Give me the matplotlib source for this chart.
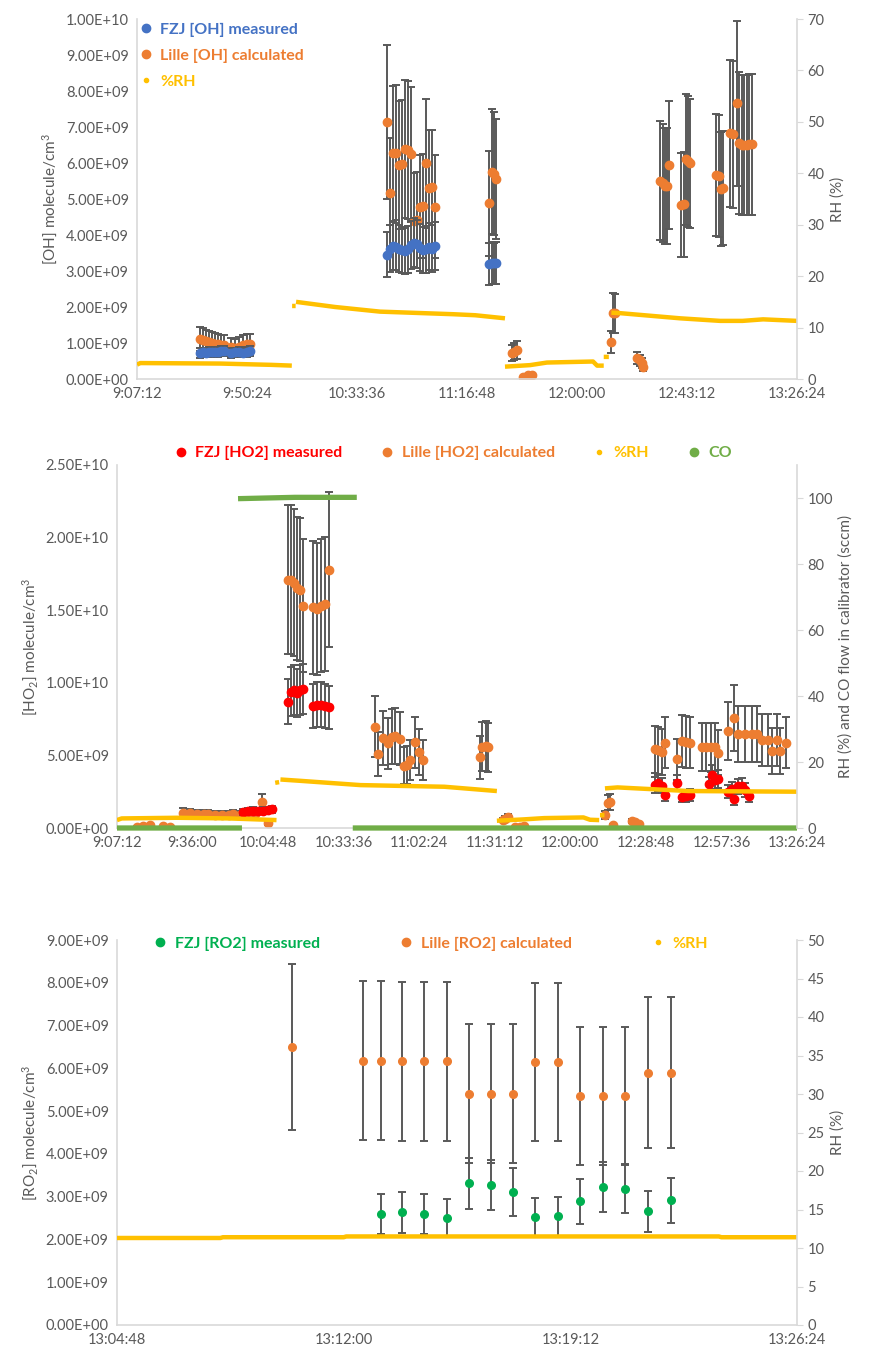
import numpy as np
import matplotlib
matplotlib.use("Agg")
import matplotlib.pyplot as plt
from matplotlib.lines import Line2D
from matplotlib.ticker import FuncFormatter, MultipleLocator

plt.rcParams['font.family'] = ['Lato', 'DejaVu Sans']
plt.rcParams['mathtext.default'] = 'regular'

BLUE = '#4472C4'
ORANGE = '#ED7D31'
GOLD = '#FFC000'
CO_GREEN = '#70AD47'
RED = '#FF0000'
RO2_GREEN = '#00B050'
BAR = '#595959'
TXT = '#595959'
AXC = '#D9D9D9'

# error bars are a percentage of the value
LILLE_ERR = 0.30
FZJ_ERR = 0.18

# ---------------- panel 1 : OH ----------------
oh_lille_t = ["9:31:56", "9:33:07", "9:34:18", "9:35:29", "9:36:40", "9:37:50", "9:39:01", "9:40:12", "9:41:22",
              "9:44:07", "9:45:41", "9:47:16", "9:48:50", "9:50:24", "9:51:35",
              "10:45:16", "10:46:22", "10:47:33", "10:48:44", "10:49:55", "10:51:05", "10:52:16", "10:53:26",
              "10:54:37", "10:55:48", "10:56:59", "10:58:10", "10:59:20", "11:00:31", "11:01:41", "11:02:52",
              "11:04:03",
              "11:25:34", "11:26:31", "11:27:25", "11:28:12",
              "11:34:22", "11:35:16", "11:36:20", "11:38:56", "11:40:46", "11:42:14",
              "12:13:24", "12:14:18", "12:14:54",
              "12:23:36", "12:24:46", "12:25:21", "12:26:06",
              "12:32:38", "12:33:37", "12:34:36", "12:35:23", "12:36:18",
              "12:40:54", "12:41:53", "12:42:42", "12:43:37", "12:44:24",
              "12:54:36", "12:55:35", "12:56:30", "12:57:24",
              "13:00:06", "13:01:17", "13:02:42", "13:03:36", "13:04:42", "13:05:36", "13:06:42", "13:07:36",
              "13:08:36"]
oh_lille = [1.11, 1.08, 1.05, 1.02, 1.00, 0.98, 0.96, 0.94, 0.95,
            0.88, 0.86, 0.90, 0.95, 0.97, 0.96,
            7.13, 5.16, 6.27, 6.29, 5.94, 5.96, 6.38, 6.36, 6.25, 4.40, 4.42, 4.79, 4.80, 5.99, 5.31, 5.33, 4.79,
            4.88, 5.76, 5.70, 5.55,
            0.72, 0.76, 0.81, 0.05, 0.10, 0.12,
            1.03, 1.84, 1.82,
            0.58, 0.52, 0.45, 0.33,
            5.51, 5.45, 5.36, 5.36, 5.94,
            4.83, 4.85, 6.10, 6.05, 5.99,
            5.67, 5.65, 5.28, 5.30,
            6.82, 6.80, 7.66, 6.55, 6.50, 6.50, 6.50, 6.52, 6.52]   # x 1e9

oh_fzj_t = oh_lille_t[:36]
oh_fzj = [0.72, 0.74, 0.73, 0.75, 0.74, 0.76, 0.75, 0.77, 0.78,
          0.72, 0.74, 0.75, 0.73, 0.76, 0.78,
          3.45, 3.62, 3.70, 3.68, 3.62, 3.58, 3.55, 3.60, 3.72, 3.78, 3.75, 3.65, 3.58, 3.60, 3.68, 3.62, 3.70,
          3.20, 3.22, 3.21, 3.23]   # x 1e9

rh1_t = ["9:07:12", "9:08:30", "9:40:00", "10:00:00", "10:08:00", None,
         "10:08:07", "10:09:30", None,
         "10:09:40", "10:25:00", "10:42:38", "11:11:18", "11:20:00", "11:31:43", None,
         "11:31:43", "11:41:36", "11:48:12", "12:06:18", "12:07:54", "12:10:30", None,
         "12:10:30", "12:12:30", None,
         "12:13:30", "12:17:00", "12:40:30", "12:56:12", "13:05:00", "13:13:06", "13:26:24"]
rh1 = [2.8, 3.1, 3.0, 2.75, 2.6, None,
       14.2, 14.2, None,
       15.0, 14.0, 13.1, 12.6, 12.4, 11.8, None,
       2.4, 2.7, 3.2, 3.4, 2.6, 2.6, None,
       4.3, 4.3, None,
       12.9, 12.8, 11.8, 11.3, 11.3, 11.6, 11.3]

ticks12 = ["9:07:12", "9:50:24", "10:33:36", "11:16:48", "12:00:00", "12:43:12", "13:26:24"]

# ---------------- panel 2 : HO2 ----------------
ho2_lille_t = ["9:14:49", "9:17:07", "9:19:47", "9:24:44", "9:27:25",
               "9:32:22", "9:35:02", "9:37:42", "9:40:22", "9:41:53",
               "9:44:34", "9:47:14", "9:49:54", "9:51:25",
               "9:54:05", "9:56:00", "9:57:54", "9:59:49", "10:02:22", "10:04:53",
               "10:12:23", "10:13:32", "10:14:41", "10:15:49", "10:16:58", "10:18:07", "10:21:55", "10:23:27",
               "10:24:58", "10:26:30", "10:28:01",
               "10:45:34", "10:46:49", "10:48:43", "10:50:38", "10:52:00", "10:53:11", "10:55:05", "10:56:37",
               "10:57:45", "10:58:54", "11:00:49", "11:02:27", "11:03:59",
               "11:25:35", "11:26:21", "11:27:53", "11:28:38",
               "11:34:22", "11:35:16", "11:36:20", "11:38:56", "11:40:46", "11:42:14",
               "12:13:15", "12:14:31", "12:15:10", "12:16:24", "12:23:36", "12:24:46", "12:26:06",
               "12:32:19", "12:33:27", "12:34:52", "12:36:07",
               "12:40:48", "12:42:30", "12:44:07", "12:45:39",
               "12:50:06", "12:51:45", "12:53:40", "12:55:11", "12:56:26",
               "13:00:04", "13:02:26", "13:03:57", "13:06:37", "13:09:17", "13:11:12", "13:13:06", "13:15:23",
               "13:16:48", "13:18:48", "13:19:57", "13:22:14"]
ho2_lille = [0.10, 0.15, 0.20, 0.12, 0.10,
             1.05, 1.00, 0.98, 0.95, 0.93,
             0.90, 0.88, 0.92, 0.95,
             0.90, 0.92, 0.95, 0.98, 1.81, 0.32,
             17.1, 17.1, 16.9, 16.5, 16.4, 15.3, 15.2, 15.1, 15.3, 15.4, 17.8,
             6.98, 5.07, 6.18, 5.83, 6.30, 6.34, 6.15, 4.29, 4.35, 4.68, 5.90, 5.26, 4.68,
             4.87, 5.60, 5.65, 5.55,
             0.55, 0.65, 0.75, 0.06, 0.10, 0.12,
             0.90, 1.74, 1.78, 0.20, 0.48, 0.40, 0.28,
             5.42, 5.35, 5.26, 5.88,
             4.73, 5.99, 5.92, 5.88,
             5.56, 5.58, 5.55, 5.56, 5.19,
             6.70, 7.55, 6.45, 6.45, 6.48, 6.45, 6.06, 6.06, 5.32, 6.06, 5.30, 5.88]   # x 1e9

ho2_fzj_t = ["9:55:14", "9:57:08", "9:59:03", "10:00:57", "10:02:52", "10:04:46", "10:06:17",
             "10:12:23", "10:13:32", "10:14:41", "10:15:49", "10:16:58", "10:18:07", "10:21:55", "10:23:27",
             "10:24:58", "10:26:30", "10:28:01",
             "12:32:19", "12:33:27", "12:34:52", "12:36:07",
             "12:40:48", "12:42:30", "12:44:07", "12:45:39",
             "12:53:00", "12:54:10", "12:55:11", "12:56:26",
             "13:00:04", "13:01:30", "13:02:26", "13:03:57", "13:05:30", "13:06:37", "13:08:00"]
ho2_fzj = [1.10, 1.15, 1.20, 1.15, 1.20, 1.25, 1.30,
           8.7, 9.4, 9.5, 9.3, 9.5, 9.6, 8.4, 8.5, 8.5, 8.4, 8.3,
           2.96, 3.10, 2.90, 2.27,
           3.12, 2.16, 2.20, 2.30,
           3.00, 3.65, 3.31, 3.40,
           2.50, 2.70, 1.97, 2.87, 2.90, 2.60, 2.18]   # x 1e9

rh2_t = ["9:07:12", "9:09:00", "9:30:00", "9:50:00", "10:08:00", None,
         "10:07:30", "10:09:00", None,
         "10:09:30", "10:16:58", "10:40:00", "11:12:00", "11:32:00", None,
         "11:32:00", "11:42:00", "11:50:00", "12:05:00", "12:07:30", "12:11:00", None,
         "12:11:18", "12:13:00", None,
         "12:13:12", "12:18:00", "12:45:00", "13:26:24"]
rh2 = [2.4, 2.9, 3.1, 2.9, 2.4, None,
       13.7, 13.9, None,
       14.7, 14.3, 13.0, 12.5, 11.2, None,
       2.2, 2.6, 3.0, 3.2, 2.5, 2.4, None,
       3.9, 3.9, None,
       12.0, 12.3, 11.2, 11.0]

co_t = ["9:07:12", "9:54:50", None, "9:53:20", "10:15:00", "10:38:36", None, "10:37:04", "13:26:24"]
co = [0, 0, None, 99.8, 100.2, 100.2, None, 0, 0]

ticks2 = ["9:07:12", "9:36:00", "10:04:48", "10:33:36", "11:02:24", "11:31:12", "12:00:00", "12:28:48",
          "12:57:36", "13:26:24"]

# ---------------- panel 3 : RO2 ----------------
ro2_lille_t = ["13:10:21", "13:12:36", "13:13:11", "13:13:52", "13:14:34", "13:15:16", "13:15:59", "13:16:41",
               "13:17:23", "13:18:05", "13:18:48", "13:19:31", "13:20:15", "13:20:57", "13:21:40", "13:22:23"]
ro2_lille = [6.50, 6.18, 6.18, 6.16, 6.16, 6.16, 5.41, 5.41, 5.41, 6.15, 6.15, 5.35, 5.35, 5.35, 5.90, 5.90]
ro2_fzj_t = ro2_lille_t[2:]
ro2_fzj = [2.60, 2.63, 2.59, 2.50, 3.31, 3.27, 3.11, 2.52, 2.54, 2.89, 3.22, 3.19, 2.66, 2.92]

rh3_t = ["13:04:48", "13:08:05", "13:08:10", "13:12:00", "13:12:05", "13:23:55", "13:24:00", "13:26:24"]
rh3 = [11.3, 11.3, 11.4, 11.4, 11.5, 11.5, 11.4, 11.4]

ticks3 = ["13:04:48", "13:12:00", "13:19:12", "13:26:24"]


def sec(s):
    if s is None:
        return np.nan
    h, m, ss = s.split(':')
    return int(h) * 3600 + int(m) * 60 + int(ss)


def secs(lst):
    return np.array([sec(s) for s in lst], dtype=float)


def vals(lst, scale=1.0):
    return np.array([np.nan if v is None else v * scale for v in lst], dtype=float)


def hms(v, pos=None):
    v = int(round(v))
    return f"{v // 3600}:{v % 3600 // 60:02d}:{v % 60:02d}"


sci = FuncFormatter(lambda v, p: f"{v:.2E}")


def style(ax, axr, ticks, ymax, ystep, rmax, rstep, rtop=None):
    ax.set_xlim(sec(ticks[0]), sec(ticks[-1]))
    ax.set_xticks(secs(ticks))
    ax.xaxis.set_major_formatter(FuncFormatter(hms))
    ax.set_ylim(0, ymax)
    ax.yaxis.set_major_locator(MultipleLocator(ystep))
    ax.yaxis.set_major_formatter(sci)
    axr.set_ylim(0, rtop if rtop else rmax)
    axr.set_yticks(np.arange(0, rmax + 0.01, rstep))
    for a in (ax, axr):
        a.spines['top'].set_visible(False)
    ax.spines['right'].set_visible(False)
    axr.spines['left'].set_visible(False)
    axr.spines['bottom'].set_visible(False)
    ax.spines['left'].set_color(AXC)
    ax.spines['bottom'].set_color(AXC)
    axr.spines['right'].set_color(AXC)
    for sp in (ax.spines['left'], ax.spines['bottom'], axr.spines['right']):
        sp.set_linewidth(1.2)
    ax.tick_params(axis='both', length=0, labelsize=10.5, labelcolor=TXT, pad=6)
    axr.tick_params(axis='y', length=4, color=AXC, labelsize=10.5, labelcolor=TXT)


def errpts(ax, t, v, pct, color, ms, z):
    x = secs(t)
    y = np.array(v) * 1e9
    ax.errorbar(x, y, yerr=pct * y, fmt='o', color=color, markersize=ms, ecolor=BAR, elinewidth=1.4,
                capsize=3, capthick=1.4, zorder=z)


def dot(color, ms):
    return Line2D([], [], marker='o', linestyle='', color=color, markersize=ms)


fig = plt.figure(figsize=(8.75, 13.51), dpi=100)

# panel 1
ax1 = fig.add_axes([137 / 875, 1 - 379 / 1351, 660 / 875, 360 / 1351])
ax1r = ax1.twinx()
errpts(ax1, oh_lille_t, oh_lille, LILLE_ERR, ORANGE, 6, 2)
errpts(ax1, oh_fzj_t, oh_fzj, FZJ_ERR, BLUE, 6, 3)
ax1r.plot(secs(rh1_t), vals(rh1), color=GOLD, linewidth=3.2, solid_capstyle='butt')
style(ax1, ax1r, ticks12, 1e10, 1e9, 70, 10)
ax1.set_ylabel('[OH] molecule/cm$^3$', color=TXT, fontsize=11)
ax1r.set_ylabel('RH (%)', color=TXT, fontsize=11)
ax1r.legend([dot(BLUE, 6), dot(ORANGE, 6), dot(GOLD, 3)],
            ['FZJ [OH] measured', 'Lille [OH] calculated', '%RH'],
            loc='upper left', bbox_to_anchor=(-0.018, 1.03), frameon=False, handlelength=0.8,
            handletextpad=0.5, labelspacing=0.75, prop={'weight': 'bold', 'size': 11.5},
            labelcolor=[BLUE, ORANGE, GOLD])

# panel 2
ax2 = fig.add_axes([117 / 875, 1 - 828 / 1351, 680 / 875, 363 / 1351])
ax2r = ax2.twinx()
errpts(ax2, ho2_lille_t, ho2_lille, LILLE_ERR, ORANGE, 6, 2)
errpts(ax2, ho2_fzj_t, ho2_fzj, FZJ_ERR, RED, 6, 3)
ax2r.plot(secs(rh2_t), vals(rh2), color=GOLD, linewidth=3.2, solid_capstyle='butt')
ax2r.plot(secs(co_t), vals(co), color=CO_GREEN, linewidth=3.8, solid_capstyle='butt', clip_on=False)
style(ax2, ax2r, ticks2, 2.5e10, 5e9, 100, 20, rtop=110)
ax2.set_ylabel('[HO$_2$] molecule/cm$^3$', color=TXT, fontsize=11)
ax2r.set_ylabel('RH (%) and CO flow in calibrator (sccm)', color=TXT, fontsize=11)
ax2r.legend([dot(RED, 6), dot(ORANGE, 6), dot(GOLD, 3), dot(CO_GREEN, 6)],
            ['FZJ [HO2] measured', 'Lille [HO2] calculated', '%RH', 'CO'],
            loc='lower left', bbox_to_anchor=(0.075, 0.995), ncol=4, frameon=False, handlelength=0.8,
            handletextpad=0.5, columnspacing=2.4, borderaxespad=0.0,
            prop={'weight': 'bold', 'size': 11.5}, labelcolor=[RED, ORANGE, GOLD, CO_GREEN])

# panel 3
ax3 = fig.add_axes([117 / 875, 1 - 1325 / 1351, 680 / 875, 385 / 1351])
ax3r = ax3.twinx()
errpts(ax3, ro2_lille_t, ro2_lille, LILLE_ERR, ORANGE, 5.5, 2)
errpts(ax3, ro2_fzj_t, ro2_fzj, FZJ_ERR, RO2_GREEN, 5.5, 3)
ax3r.plot(secs(rh3_t), vals(rh3), color=GOLD, linewidth=3.2, solid_capstyle='butt')
style(ax3, ax3r, ticks3, 9e9, 1e9, 50, 5)
ax3.set_ylabel('[RO$_2$] molecule/cm$^3$', color=TXT, fontsize=11)
ax3r.set_ylabel('RH (%)', color=TXT, fontsize=11)
ax3r.legend([dot(RO2_GREEN, 6), dot(ORANGE, 6), dot(GOLD, 3)],
            ['FZJ [RO2] measured', 'Lille [RO2] calculated', '%RH'],
            loc='upper left', bbox_to_anchor=(0.045, 1.025), ncol=3, frameon=False, handlelength=0.8,
            handletextpad=0.5, columnspacing=5.0, borderaxespad=0.0,
            prop={'weight': 'bold', 'size': 11.5}, labelcolor=[RO2_GREEN, ORANGE, GOLD])

fig.savefig('out.png', dpi=100)
